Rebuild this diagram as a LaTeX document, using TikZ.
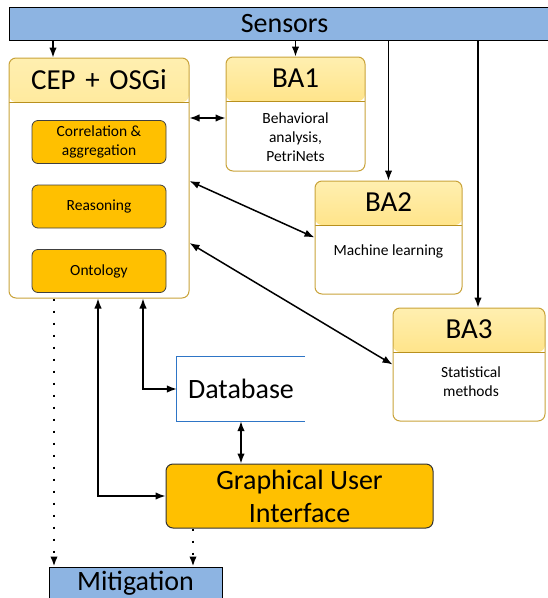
\documentclass[tikz,border=0pt]{standalone}
\usepackage{fontspec}
\setmainfont{Carlito}
\usetikzlibrary{arrows.meta}

\definecolor{sensorblue}{HTML}{8DB4E2}
\definecolor{hdtop}{HTML}{FFEFB0}
\definecolor{hdbot}{HTML}{FFD34F}
\definecolor{golden}{HTML}{C9A33A}
\definecolor{hdline}{HTML}{B8901E}
\definecolor{amber}{HTML}{FFC000}
\definecolor{dbblue}{HTML}{2E75C6}

\tikzset{
  block/.style = {draw=golden, line width=1pt, rounded corners=7pt, fill=white,
    path picture={
      \shade[top color=hdtop, bottom color=hdbot]
        (path picture bounding box.north west) rectangle ([yshift=-44pt]path picture bounding box.north east);
      \draw[hdline, line width=1pt]
        ([yshift=-44pt]path picture bounding box.north west) -- ([yshift=-44pt]path picture bounding box.north east);
    }},
  bigtext/.style = {font=\fontsize{28}{33}\selectfont, inner sep=0pt, align=center},
  titletext/.style = {font=\fontsize{29}{33}\selectfont, inner sep=0pt},
  smalltext/.style = {font=\fontsize{15.5}{19}\selectfont, inner sep=0pt, align=center},
  module/.style = {draw=black!75, line width=0.8pt, fill=amber, rounded corners=6pt,
    minimum width=134pt, minimum height=43pt, smalltext},
  bar/.style = {draw=black, line width=1pt, fill=sensorblue, bigtext},
  link/.style = {line width=1.5pt, -{Latex[length=10pt,width=7.5pt]}},
  both/.style = {line width=1.5pt, {Latex[length=10pt,width=7.5pt]}-{Latex[length=10pt,width=7.5pt]}},
  dots/.style = {line width=2pt, dash pattern=on 2pt off 10pt,
    -{Latex[length=10pt,width=7.5pt]}}
}

\begin{document}
\begin{tikzpicture}[x=1pt, y=-1pt]
\useasboundingbox (0,0) rectangle (548,598);

% top and bottom bars
\node[bar, minimum width=551pt, minimum height=33pt] (sensors) at (284.5,23.5) {Sensors};
\node[bar, minimum width=173pt, minimum height=33pt] (mitigation) at (135.5,583.5) {Mitigation};

% CEP block with its modules
\node[block, minimum width=180pt, minimum height=240pt] (cep) at (99,178) {};
\node[titletext] (cep-title) at ([yshift=-22pt]cep.north) {CEP\,\,+\,\,OSGi};
\node[module] (corr) at (99,142) {Correlation \&\\aggregation};
\node[module] (reason) at (99,206.5) {Reasoning};
\node[module] (onto) at (99,271) {Ontology};

% behavioural analysis blocks
\node[block, minimum width=139pt, minimum height=114pt] (ba1) at (295.5,114) {};
\node[titletext] (ba1-title) at ([yshift=-22pt]ba1.north) {BA1};
\node[smalltext] (ba1-text) at (295.5,137) {Behavioral\\analysis,\\PetriNets};

\node[block, minimum width=147pt, minimum height=113pt] (ba2) at (388.5,237.5) {};
\node[titletext] (ba2-title) at ([yshift=-22pt]ba2.north) {BA2};
\node[smalltext] (ba2-text) at (388.5,251) {Machine learning};

\node[block, minimum width=152pt, minimum height=113pt] (ba3) at (469,364.5) {};
\node[titletext] (ba3-title) at ([yshift=-22pt]ba3.north) {BA3};
\node[smalltext] (ba3-text) at (471,382) {Statistical\\methods};

% database and GUI
\node[minimum width=128pt, minimum height=64pt, bigtext] (db) at (241,389) {Database};
\draw[dbblue, line width=1.2pt] (db.north east) -- (db.north west) -- (db.south west) -- (db.south east);
\node[draw=black!80, line width=1pt, fill=amber, rounded corners=7pt,
      minimum width=267pt, minimum height=64pt, bigtext] (gui) at (299.5,496) {Graphical User\\Interface};

% sensor feeds
\draw[link] ([xshift=-46pt]cep.north |- sensors.south) -- ([xshift=-46pt]cep.north);
\draw[link] (sensors.south -| ba1.north) -- (ba1.north);
\draw[link] (sensors.south -| ba2.north) -- (ba2.north);
\draw[link] ([xshift=9pt]ba3.north |- sensors.south) -- ([xshift=9pt]ba3.north);

% CEP <-> BA
\coordinate (ba1in) at ([yshift=-4pt]ba1.west);
\draw[both] (cep.east |- ba1in) -- (ba1in);
\draw[both] ([yshift=-3pt]cep.east) -- (ba2.west);
\draw[both] ([yshift=-65pt]cep.east) -- (ba3.west);

% CEP <-> database, GUI
\draw[both] ([xshift=44pt]cep.south) |- (db.west);
\draw[both] ([xshift=-1pt]cep.south) |- (gui.west);
\draw[both] (db.south) -- (db.south |- gui.north);

% mitigation
\draw[dots] ([xshift=-45pt]cep.south) -- ([xshift=-45pt]cep.south |- mitigation.north);
\draw[dots] ([xshift=-106.5pt]gui.south) -- ([xshift=-106.5pt]gui.south |- mitigation.north);
\end{tikzpicture}
\end{document}
